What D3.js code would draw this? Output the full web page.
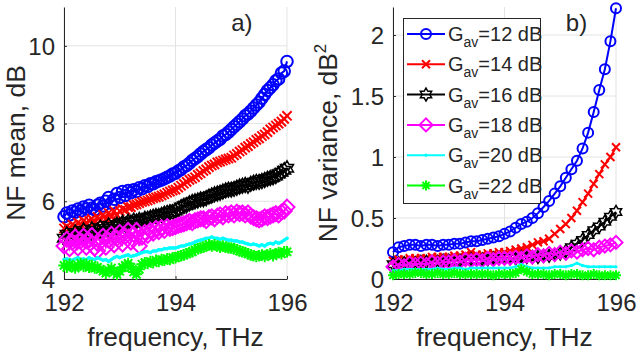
<!DOCTYPE html>
<html><head><meta charset="utf-8">
<script src="https://cdn.jsdelivr.net/npm/d3@7"></script>
<style>body{margin:0;background:#fff}svg{display:block}text{font-family:"Liberation Sans",Arial,sans-serif;fill:#262626}</style>
</head><body>
<script>
// frequency grids (THz)
const meanStart = 192, meanStep = 0.05, meanN = 81;
const varStart = 192, varStep = 0.1, varN = 41;
const gains = ["12", "14", "16", "18", "20", "22"];
const colors = ["#0000ff", "#ff0000", "#000000", "#ff00ff", "#00ffff", "#00ff00"];
const markers = ["circle", "x", "hexagram", "diamond", "point", "asterisk"];

// panel a) NF mean, dB
const mean12 = [5.60,5.70,5.65,5.75,5.72,5.80,5.75,5.85,5.80,5.90,5.82,5.78,5.90,5.95,5.88,6.00,6.10,5.95,6.05,6.20,6.10,6.25,6.15,6.28,6.22,6.30,6.25,6.35,6.32,6.40,6.38,6.45,6.45,6.50,6.52,6.55,6.58,6.62,6.65,6.70,6.72,6.78,6.82,6.88,6.92,6.98,7.05,7.10,7.15,7.22,7.28,7.33,7.38,7.45,7.50,7.55,7.60,7.68,7.72,7.78,7.85,7.92,7.98,8.05,8.12,8.20,8.25,8.32,8.40,8.48,8.55,8.65,8.75,8.85,8.92,9.00,9.10,9.15,9.30,9.35,9.60];
const mean14 = [5.30,5.35,5.30,5.40,5.35,5.45,5.40,5.50,5.45,5.50,5.55,5.45,5.60,5.50,5.65,5.55,5.70,5.60,5.75,5.65,5.75,5.80,5.78,5.85,5.85,5.90,5.92,5.95,5.98,6.00,6.02,6.05,6.08,6.10,6.12,6.15,6.18,6.22,6.25,6.28,6.30,6.35,6.40,6.45,6.50,6.55,6.58,6.62,6.68,6.72,6.78,6.82,6.88,6.92,6.95,7.00,7.02,7.05,7.08,7.10,7.12,7.18,7.22,7.28,7.32,7.38,7.42,7.48,7.52,7.58,7.62,7.68,7.72,7.78,7.85,7.90,7.95,8.00,8.05,8.12,8.20];
const mean16 = [5.05,5.15,5.00,5.10,5.20,5.05,5.15,5.25,5.10,5.20,5.28,5.15,5.25,5.32,5.20,5.30,5.38,5.25,5.35,5.40,5.38,5.45,5.40,5.48,5.45,5.50,5.48,5.52,5.50,5.55,5.55,5.58,5.60,5.62,5.62,5.65,5.68,5.70,5.72,5.72,5.75,5.80,5.85,5.88,5.90,5.95,5.98,6.00,6.02,6.05,6.05,6.08,6.12,6.15,6.18,6.20,6.22,6.25,6.28,6.30,6.30,6.32,6.35,6.38,6.40,6.42,6.40,6.45,6.48,6.50,6.50,6.52,6.55,6.58,6.60,6.62,6.65,6.70,6.75,6.80,6.85];
const mean18 = [4.85,5.02,4.78,4.95,5.08,4.80,4.98,5.10,4.82,5.00,5.12,4.80,4.72,4.95,5.10,4.82,5.00,5.15,4.88,5.05,5.20,4.90,5.10,5.25,4.95,5.15,5.25,4.85,5.08,5.20,5.12,5.25,5.18,5.30,5.22,5.32,5.25,5.35,5.30,5.32,5.35,5.38,5.40,5.42,5.45,5.48,5.45,5.50,5.52,5.55,5.55,5.50,5.58,5.60,5.55,5.62,5.65,5.60,5.68,5.65,5.70,5.65,5.72,5.68,5.70,5.65,5.70,5.62,5.58,5.55,5.52,5.55,5.60,5.58,5.62,5.65,5.68,5.65,5.72,5.75,5.85];
const mean20 = [4.50,4.52,4.50,4.48,4.52,4.55,4.50,4.52,4.50,4.55,4.52,4.50,4.55,4.52,4.48,4.50,4.45,4.50,4.55,4.58,4.55,4.58,4.60,4.62,4.58,4.60,4.62,4.65,4.68,4.70,4.70,4.68,4.72,4.72,4.75,4.75,4.78,4.78,4.80,4.80,4.80,4.82,4.85,4.85,4.88,4.90,4.92,4.95,4.98,5.00,5.02,5.05,5.05,5.08,5.05,5.05,5.02,5.05,5.02,5.00,5.00,4.98,4.98,4.95,4.95,4.92,4.90,4.88,4.90,4.88,4.85,4.88,4.85,4.90,4.92,4.90,4.95,4.92,4.95,5.00,5.05];
const mean22 = [4.35,4.30,4.38,4.32,4.28,4.35,4.40,4.32,4.38,4.30,4.35,4.28,4.30,4.25,4.20,4.15,4.22,4.28,4.18,4.12,4.20,4.30,4.35,4.40,4.30,4.18,4.12,4.25,4.38,4.42,4.40,4.45,4.42,4.48,4.45,4.50,4.48,4.52,4.50,4.55,4.55,4.58,4.60,4.62,4.65,4.68,4.70,4.75,4.78,4.80,4.82,4.85,4.88,4.85,4.88,4.85,4.82,4.85,4.82,4.80,4.80,4.78,4.75,4.72,4.70,4.68,4.65,4.62,4.60,4.58,4.60,4.62,4.58,4.62,4.65,4.60,4.65,4.68,4.65,4.70,4.70];

// panel b) NF variance, dB^2
const var12 = [0.22,0.26,0.27,0.28,0.28,0.27,0.28,0.28,0.27,0.28,0.28,0.29,0.29,0.30,0.31,0.31,0.32,0.33,0.34,0.35,0.37,0.39,0.42,0.45,0.47,0.50,0.54,0.59,0.64,0.70,0.76,0.83,0.90,0.97,1.07,1.2,1.37,1.55,1.72,1.95,2.22];
const var14 = [0.15,0.16,0.16,0.17,0.17,0.17,0.17,0.18,0.18,0.18,0.18,0.19,0.19,0.2,0.22,0.2,0.2,0.21,0.21,0.22,0.22,0.23,0.24,0.25,0.26,0.28,0.30,0.31,0.33,0.37,0.41,0.45,0.5,0.56,0.63,0.70,0.78,0.86,0.94,1.0,1.08];
const var16 = [0.12,0.13,0.13,0.13,0.13,0.14,0.14,0.14,0.14,0.15,0.15,0.15,0.15,0.16,0.16,0.16,0.16,0.16,0.17,0.17,0.17,0.17,0.17,0.18,0.18,0.18,0.18,0.19,0.19,0.2,0.21,0.23,0.26,0.29,0.32,0.36,0.40,0.43,0.47,0.51,0.55];
const var18 = [0.10,0.12,0.11,0.13,0.12,0.13,0.12,0.14,0.13,0.14,0.14,0.15,0.14,0.16,0.15,0.16,0.15,0.17,0.16,0.17,0.17,0.17,0.18,0.17,0.19,0.18,0.2,0.19,0.21,0.2,0.22,0.21,0.23,0.22,0.24,0.25,0.24,0.26,0.27,0.28,0.30];
const var20 = [0.07,0.07,0.08,0.08,0.08,0.08,0.08,0.08,0.09,0.08,0.08,0.09,0.09,0.08,0.09,0.09,0.09,0.09,0.09,0.09,0.09,0.09,0.1,0.12,0.1,0.09,0.09,0.09,0.09,0.1,0.1,0.1,0.11,0.13,0.11,0.1,0.1,0.1,0.1,0.1,0.1];
const var22 = [0.03,0.04,0.04,0.04,0.05,0.05,0.04,0.04,0.05,0.04,0.04,0.05,0.04,0.04,0.04,0.04,0.04,0.04,0.03,0.04,0.04,0.04,0.05,0.08,0.06,0.04,0.04,0.04,0.03,0.04,0.04,0.03,0.04,0.04,0.03,0.03,0.04,0.03,0.03,0.03,0.03];

const xTicks = [192, 194, 196];
const meanTicks = [4, 6, 8, 10];
const varTicks = [0, 0.5, 1, 1.5, 2];

const meanFreqs = d3.range(meanN).map(i => +(meanStart + i * meanStep).toFixed(2));
const varFreqs = d3.range(varN).map(i => +(varStart + i * varStep).toFixed(2));
const meanSeries = [mean12, mean14, mean16, mean18, mean20, mean22];
const varSeries = [var12, var14, var16, var18, var20, var22];

const W = 638, H = 354;
const svg = d3.select("body").append("svg").attr("width", W).attr("height", H);

function markerPath(type, s) {
  switch (type) {
    case "circle": return d3.symbol().type(d3.symbolCircle).size(Math.PI * 25 * s * s)();
    case "x": { const a = 4 * s; return `M${-a},${-a}L${a},${a}M${-a},${a}L${a},${-a}`; }
    case "diamond": { const a = 6.5 * s; return `M0,${-a}L${a},0L0,${a}L${-a},0Z`; }
    case "point": return d3.symbol().type(d3.symbolCircle).size(Math.PI * 2.5 * s * s)();
    case "asterisk": { const a = 5 * s, b = 3.6 * s; return `M${-a},0L${a},0M0,${-a}L0,${a}M${-b},${-b}L${b},${b}M${-b},${b}L${b},${-b}`; }
    case "hexagram": {
      const r = 6.5 * s, pts = [];
      for (let k = 0; k < 12; k++) {
        const ang = -Math.PI / 2 + k * Math.PI / 6;
        const rr = k % 2 === 0 ? r : r * 0.577;
        pts.push([rr * Math.cos(ang), rr * Math.sin(ang)]);
      }
      return "M" + pts.map(p => p[0].toFixed(2) + "," + p[1].toFixed(2)).join("L") + "Z";
    }
  }
}
function drawMarker(g, type, color, x, y, s) {
  const p = g.append("path").attr("d", markerPath(type, s || 1)).attr("transform", `translate(${x},${y})`);
  if (type === "point") p.attr("fill", color);
  else p.attr("fill", "none").attr("stroke", color).attr("stroke-width", type === "hexagram" ? 1.5 : 2);
}

function panel(opts) {
  const x = d3.scaleLinear().domain([192, 196]).range([opts.x0, opts.x1]);
  const y = d3.scaleLinear().domain(opts.yDomain).range([279, 7]);
  const g = svg.append("g");
  g.append("g").selectAll("line").data(xTicks).join("line")
    .attr("x1", d => x(d)).attr("x2", d => x(d)).attr("y1", 7).attr("y2", 279)
    .attr("stroke", "#e3e3e3").attr("stroke-width", 1);
  g.append("g").selectAll("line").data(opts.ticks).join("line")
    .attr("x1", opts.x0).attr("x2", opts.x1).attr("y1", d => y(d)).attr("y2", d => y(d))
    .attr("stroke", "#e3e3e3").attr("stroke-width", 1);
  const xa = g.append("g").attr("transform", "translate(0,279)")
    .call(d3.axisBottom(x).tickValues(xTicks).tickSizeInner(-3).tickSizeOuter(0).tickPadding(15).tickFormat(d3.format("d")));
  const ya = g.append("g").attr("transform", `translate(${opts.x0},0)`)
    .call(d3.axisLeft(y).tickValues(opts.ticks).tickSizeInner(-3).tickSizeOuter(0).tickPadding(9).tickFormat(opts.fmt));
  [xa, ya].forEach(a => {
    a.select(".domain").attr("stroke", "#262626").attr("stroke-width", 1);
    a.selectAll(".tick line").attr("stroke", "#262626");
    a.selectAll("text").attr("font-size", 24).attr("font-family", "Liberation Sans, Arial, sans-serif").attr("fill", "#262626");
  });
  ya.selectAll("text").attr("dy", "0.34em");
  xa.selectAll("text").attr("dy", "0.72em");
  const line = d3.line().x((d, i) => x(opts.freqs[i])).y(d => y(d));
  opts.series.forEach((s, si) => {
    const sg = g.append("g");
    sg.append("path").attr("d", line(s)).attr("fill", "none").attr("stroke", colors[si])
      .attr("stroke-width", markers[si] === "point" ? opts.pointLw : 2);
    s.forEach((v, i) => drawMarker(sg, markers[si], colors[si], x(opts.freqs[i]), y(v), opts.ms));
  });
  g.append("text").attr("x", (opts.x0 + opts.x1) / 2).attr("y", 346).attr("text-anchor", "middle")
    .attr("font-size", 26.4).text("frequency, THz");
  const yl = g.append("text").attr("transform", `translate(${opts.ylabX},143) rotate(-90)`).attr("text-anchor", "middle")
    .attr("font-size", 26.4);
  yl.append("tspan").text(opts.ylabel);
  if (opts.sup) yl.append("tspan").attr("font-size", 17).attr("dy", -11).text(opts.sup);
  g.append("text").attr("x", x(opts.tagX)).attr("y", 31).attr("font-size", 24).text(opts.tag);
}

panel({x0: 64, x1: 287, yDomain: [4, 11], ticks: meanTicks, fmt: d3.format("d"), freqs: meanFreqs, ms: 1.15, pointLw: 3,
  series: meanSeries, ylabel: "NF mean, dB", ylabX: 25, tag: "a)", tagX: 195.0});
panel({x0: 393, x1: 616, yDomain: [0, 2.23], ticks: varTicks, fmt: d => String(d), freqs: varFreqs, ms: 1, pointLw: 2.5,
  series: varSeries, ylabel: "NF variance, dB", sup: "2", ylabX: 337, tag: "b)", tagX: 195.1});

const lg = svg.append("g");
lg.append("rect").attr("x", 403.5).attr("y", 18.5).attr("width", 137).attr("height", 185)
  .attr("fill", "#fff").attr("stroke", "#262626").attr("stroke-width", 1);
gains.forEach((gn, i) => {
  const cy = 34 + i * 30.3;
  lg.append("line").attr("x1", 407).attr("x2", 445).attr("y1", cy).attr("y2", cy)
    .attr("stroke", colors[i]).attr("stroke-width", 2);
  drawMarker(lg, markers[i], colors[i], 426, cy, 1);
  const t = lg.append("text").attr("x", 448).attr("y", cy + 7).attr("font-size", 20);
  t.append("tspan").text("G");
  t.append("tspan").attr("font-size", 14).attr("dy", 6).text("av");
  t.append("tspan").attr("dy", -6).text("=" + gn + " dB");
});
</script>
</body></html>
